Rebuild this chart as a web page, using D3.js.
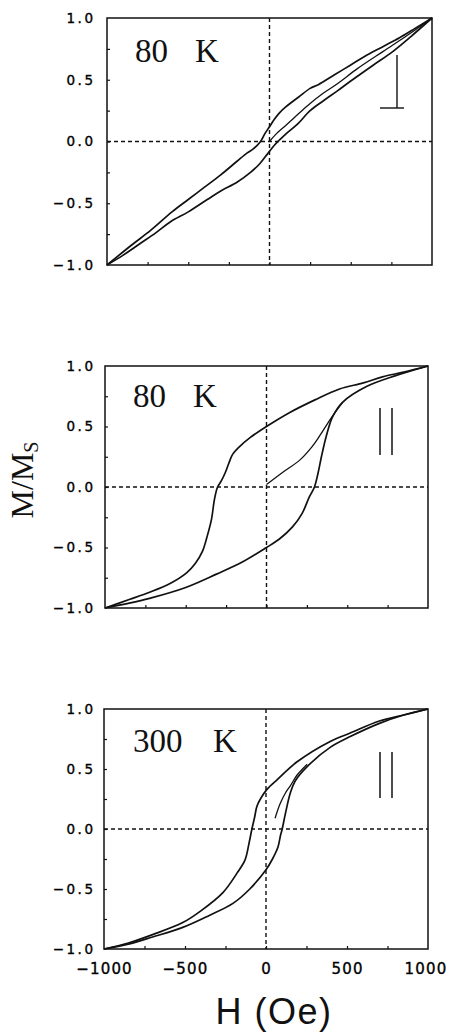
<!DOCTYPE html>
<html><head><meta charset="utf-8">
<script src="https://cdn.jsdelivr.net/npm/d3@7"></script>
<style>body{margin:0;background:#fff}svg{display:block}</style>
</head><body>
<svg id="c" width="451" height="1033"></svg>
<script>
// ---- data ----
const yTickValues = [-1, -0.5, 0, 0.5, 1];
const yMinorTicks = [-0.75, -0.5, -0.25, 0, 0.25, 0.5, 0.75];
const xTickValues = [-1000, -500, 0, 500, 1000];
const xMinorTicks = [-750, -500, -250, 0, 250, 500, 750];
const tempLabels = ["80", "80", "300"];
const xTitle = "H (Oe)";

// 80 K, perpendicular: [H (Oe), M/Ms]
const perp80Down = [[1000,1.0],[900,0.92],[800,0.84],[700,0.77],[600,0.70],[500,0.62],[400,0.54],[300,0.46],[250,0.43],[180,0.36],[100,0.28],[60,0.23],[30,0.18],[0,0.12],[-30,0.06],[-55,0.0],[-100,-0.06],[-135,-0.09],[-200,-0.16],[-300,-0.27],[-400,-0.37],[-500,-0.47],[-600,-0.57],[-732,-0.72],[-850,-0.84],[-1000,-1.0]];
const perp80Up = [[-1000,-1.0],[-900,-0.92],[-800,-0.83],[-700,-0.74],[-609,-0.65],[-500,-0.57],[-383,-0.47],[-300,-0.40],[-200,-0.33],[-117,-0.25],[-60,-0.18],[-12,-0.10],[30,-0.03],[60,0.01],[100,0.06],[172,0.14],[250,0.25],[332,0.33],[418,0.41],[500,0.49],[640,0.62],[750,0.72],[870,0.85],[1000,1.0]];
const perp80Init = [[0,0.0],[40,0.06],[100,0.13],[150,0.19],[234,0.29],[330,0.39],[420,0.47],[541,0.59],[700,0.73],[849,0.86],[1000,1.0]];

// 80 K, parallel
const par80Down = [[1000,1.0],[850,0.95],[718,0.91],[600,0.86],[452,0.81],[300,0.72],[150,0.62],[0,0.5],[-100,0.41],[-170,0.33],[-210,0.27],[-235,0.19],[-255,0.12],[-280,0.05],[-303,0.0],[-322,-0.1],[-341,-0.27],[-370,-0.42],[-396,-0.53],[-440,-0.63],[-495,-0.71],[-600,-0.80],[-724,-0.87],[-850,-0.93],[-1000,-1.0]];
const par80Up = [[-1000,-1.0],[-850,-0.96],[-724,-0.92],[-500,-0.83],[-310,-0.72],[-150,-0.62],[0,-0.5],[80,-0.43],[161,-0.33],[220,-0.22],[266,-0.08],[297,0.0],[320,0.12],[340,0.25],[370,0.42],[409,0.58],[471,0.70],[619,0.83],[800,0.92],[1000,1.0]];
const par80Init = [[0,0.02],[99,0.12],[204,0.22],[280,0.33],[328,0.42],[400,0.57],[471,0.70]];

// 300 K, parallel
const par300Down = [[1000,1.0],[850,0.95],[700,0.90],[520,0.80],[396,0.73],[192,0.56],[68,0.41],[6,0.33],[-30,0.26],[-56,0.19],[-70,0.10],[-87,0.0],[-105,-0.12],[-130,-0.26],[-180,-0.37],[-266,-0.53],[-400,-0.68],[-514,-0.78],[-700,-0.88],[-850,-0.95],[-1000,-1.0]];
const par300Up = [[-1000,-1.0],[-850,-0.96],[-700,-0.90],[-514,-0.82],[-350,-0.72],[-204,-0.62],[-100,-0.50],[0,-0.34],[40,-0.25],[74,-0.15],[90,-0.05],[100,0.0],[120,0.13],[150,0.30],[180,0.40],[254,0.52],[396,0.68],[520,0.77],[700,0.88],[850,0.95],[1000,1.0]];
const par300Init = [[56,0.09],[87,0.21],[120,0.30],[150,0.36],[192,0.45],[254,0.54]];

// ---- layout ----
const panels = [
  {l:107, r:432, t:18,  b:265, numX:135, kX:195, base:62,  series:[perp80Down, perp80Up, perp80Init], sym:"perp", symX:397, symT:55, symB:108, xLabels:false},
  {l:105, r:428, t:366, b:608, numX:133, kX:193, base:407, series:[par80Down, par80Up, par80Init], sym:"par", symX:380, symT:408, symB:455, xLabels:false},
  {l:104, r:428, t:709, b:949, numX:133, kX:213, base:752, series:[par300Down, par300Up, par300Init], sym:"par", symX:380, symT:752, symB:798, xLabels:true}
];

const svg = d3.select("#c");
const ink = "#111";

panels.forEach((p, i) => {
  const x = d3.scaleLinear().domain([-1000, 1000]).range([p.l, p.r]);
  const y = d3.scaleLinear().domain([-1, 1]).range([p.b, p.t]);
  const g = svg.append("g");

  // zero lines (dashed)
  g.append("line").attr("x1", x(-1000)).attr("x2", x(1000)).attr("y1", y(0)).attr("y2", y(0))
    .attr("stroke", ink).attr("stroke-width", 1.4).attr("stroke-dasharray", "4,3");
  g.append("line").attr("x1", x(0)).attr("x2", x(0)).attr("y1", y(1)).attr("y2", y(-1))
    .attr("stroke", ink).attr("stroke-width", 1.4).attr("stroke-dasharray", "4,3");

  // minor inward ticks
  const ly = g.append("g").attr("transform", `translate(${p.l},0)`)
    .call(d3.axisLeft(y).tickValues(yMinorTicks).tickSize(-3).tickFormat(""));
  ly.select(".domain").remove();
  ly.selectAll("line").attr("stroke", ink).attr("stroke-width", 1.2);
  const lx = g.append("g").attr("transform", `translate(0,${p.b})`)
    .call(d3.axisBottom(x).tickValues(xMinorTicks).tickSize(-3).tickFormat(""));
  lx.select(".domain").remove();
  lx.selectAll("line").attr("stroke", ink).attr("stroke-width", 1.2);

  // y tick labels
  const ay = g.append("g").attr("transform", `translate(${p.l},0)`)
    .call(d3.axisLeft(y).tickValues(yTickValues).tickSize(0).tickPadding(p.l - 95.5).tickFormat(d3.format(".1f")));
  ay.select(".domain").remove();
  ay.selectAll("text").attr("font-family", "DejaVu Sans").attr("font-size", 13.5)
    .attr("letter-spacing", 2.5).attr("fill", "#000").attr("stroke", "#000").attr("stroke-width", 0.35);

  if (p.xLabels) {
    const ax = g.append("g").attr("transform", `translate(0,${p.b})`)
      .call(d3.axisBottom(x).tickValues(xTickValues).tickSize(0).tickPadding(14).tickFormat(d3.format("d")));
    ax.select(".domain").remove();
    ax.selectAll("text").attr("font-family", "DejaVu Sans").attr("font-size", 15)
      .attr("letter-spacing", 1.2).attr("fill", "#000").attr("stroke", "#000").attr("stroke-width", 0.35);
    ax.selectAll("text").filter(d => d === 1000).attr("text-anchor", "end").attr("dx", 19);
  }

  // curves
  const line = d3.line().x(d => x(d[0])).y(d => y(d[1])).curve(d3.curveCatmullRom.alpha(0.5));
  p.series.forEach((s, k) => {
    g.append("path").attr("d", line(s)).attr("fill", "none").attr("stroke", ink)
      .attr("stroke-width", k === 2 ? 1.3 : 1.7).attr("stroke-linejoin", "round");
  });

  // frame
  g.append("rect").attr("x", p.l).attr("y", p.t).attr("width", p.r - p.l).attr("height", p.b - p.t)
    .attr("fill", "none").attr("stroke", ink).attr("stroke-width", 1.5);

  // temperature label
  const tl = g.append("text").attr("y", p.base).attr("font-family", "Liberation Serif")
    .attr("font-size", 33).attr("fill", ink);
  tl.append("tspan").attr("x", p.numX).text(tempLabels[i]);
  tl.append("tspan").attr("x", p.kX).text("K");

  // field-orientation symbol
  if (p.sym === "perp") {
    g.append("line").attr("x1", p.symX).attr("x2", p.symX).attr("y1", p.symT).attr("y2", p.symB)
      .attr("stroke", ink).attr("stroke-width", 1.4);
    g.append("line").attr("x1", p.symX - 17).attr("x2", p.symX + 7).attr("y1", p.symB).attr("y2", p.symB)
      .attr("stroke", ink).attr("stroke-width", 1.4);
  } else {
    [0, 12].forEach(dx => g.append("line").attr("x1", p.symX + dx).attr("x2", p.symX + dx)
      .attr("y1", p.symT).attr("y2", p.symB).attr("stroke", ink).attr("stroke-width", 1.5));
  }
});

// axis titles
const yt = svg.append("text").attr("transform", "translate(33,480) rotate(-90)")
  .attr("text-anchor", "middle").attr("font-family", "Liberation Serif").attr("font-size", 32).attr("fill", ink);
yt.append("tspan").text("M/M");
yt.append("tspan").attr("font-size", 20).attr("dy", 5).text("S");

svg.append("text").attr("x", 274).attr("y", 1024).attr("text-anchor", "middle")
  .attr("font-family", "Liberation Sans").attr("font-size", 36).attr("letter-spacing", 1.5)
  .attr("fill", ink).text(xTitle);
</script>
</body></html>
